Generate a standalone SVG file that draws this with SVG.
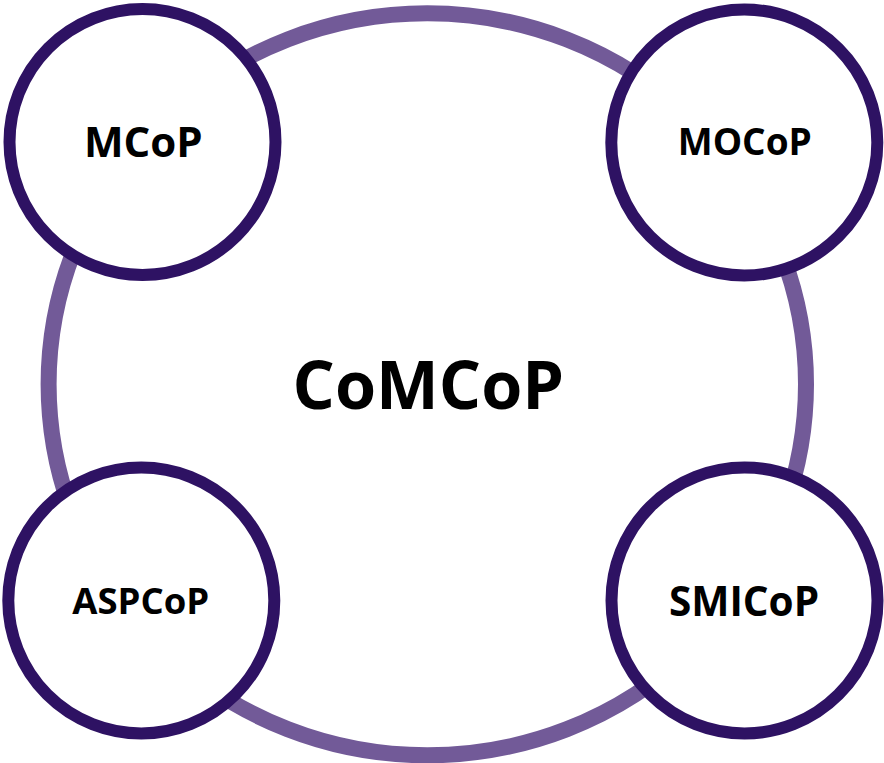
<svg xmlns="http://www.w3.org/2000/svg" width="884" height="763" viewBox="0 0 884 763">
<style>
.ring{fill:#ffffff;stroke:#725a98;stroke-width:16}
.node{fill:#ffffff;stroke:#2e1263;stroke-width:12}
.lbl{font-family:"Open Sans","Noto Sans","Liberation Sans",sans-serif;font-weight:700;fill:#000000;text-anchor:middle}
</style>
<rect width="884" height="763" fill="#ffffff"/>
<g id="CoMCoP">
<ellipse class="ring" cx="427.3" cy="384.3" rx="378.7" ry="371"/>
<text class="lbl" x="428.3" y="409.3" font-size="66.5">CoMCoP</text>
</g>
<g id="connectors"></g>
<g id="MCoP">
<circle class="node" cx="142.5" cy="142" r="133"/>
<text class="lbl" x="143.3" y="156.7" font-size="42">MCoP</text>
</g>
<g id="MOCoP">
<circle class="node" cx="744.3" cy="142.5" r="133"/>
<text class="lbl" x="744.8" y="155" font-size="37">MOCoP</text>
</g>
<g id="ASPCoP">
<circle class="node" cx="141.3" cy="600.5" r="133"/>
<text class="lbl" x="140.8" y="614.3" font-size="36.5">ASPCoP</text>
</g>
<g id="SMICoP">
<circle class="node" cx="744.5" cy="600.5" r="133"/>
<text class="lbl" x="744" y="615.7" font-size="40.5">SMICoP</text>
</g>
</svg>
